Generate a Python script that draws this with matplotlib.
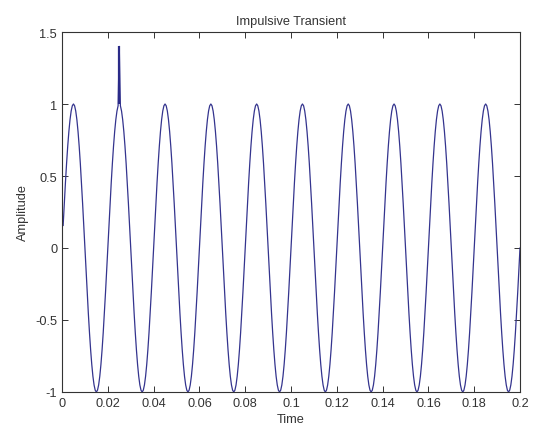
import numpy as np
import matplotlib
matplotlib.use("Agg")
import matplotlib.pyplot as plt

# Signal description
signal_freq_hz = 50.0          # 10 full cycles over 0..0.2 s
signal_amplitude = 1.0
sample_step_s = 0.0005         # first sample at 0.0005 s (curve starts near 0.15)
time_end_s = 0.2
impulse_time_s = [0.025]
impulse_value = [1.4]

x_ticks = [0, 0.02, 0.04, 0.06, 0.08, 0.1, 0.12, 0.14, 0.16, 0.18, 0.2]
x_tick_labels = ["0", "0.02", "0.04", "0.06", "0.08", "0.1", "0.12", "0.14", "0.16", "0.18", "0.2"]
y_ticks = [-1, -0.5, 0, 0.5, 1, 1.5]
y_tick_labels = ["-1", "-0.5", "0", "0.5", "1", "1.5"]

n = int(round(time_end_s / sample_step_s))
t = sample_step_s * np.arange(1, n + 1)
y = signal_amplitude * np.sin(2 * np.pi * signal_freq_hz * t)
for ti, vi in zip(impulse_time_s, impulse_value):
    idx = int(np.argmin(np.abs(t - ti)))
    y[idx] = vi

plt.rcParams['font.family'] = ['Liberation Sans', 'DejaVu Sans']
fig = plt.figure(figsize=(5.37, 4.35), dpi=100)
ax = fig.add_axes([62/537, 42/435, 458/537, 360/435])
ax.plot(t, y, color='#34348e', linewidth=0.9)
ax.vlines(impulse_time_s, signal_amplitude, impulse_value, color='#2a2a88', linewidth=1.6)
ax.set_xlim(0, 0.2)
ax.set_ylim(-1, 1.5)
ax.set_xticks(x_ticks)
ax.set_xticklabels(x_tick_labels)
ax.set_yticks(y_ticks)
ax.set_yticklabels(y_tick_labels)
ax.tick_params(direction='in', top=True, right=True, length=4, width=0.7,
               labelsize=9.2, colors='#333333')
for s in ax.spines.values():
    s.set_linewidth(0.8)
    s.set_color('#333333')
ax.set_xlabel('Time', fontsize=9.2, color='#333333', labelpad=3)
ax.set_ylabel('Amplitude', fontsize=9.2, color='#333333', labelpad=4)
ax.set_title('Impulsive Transient', fontsize=9.2, color='#333333', pad=6)
fig.savefig('out.png', dpi=100)
